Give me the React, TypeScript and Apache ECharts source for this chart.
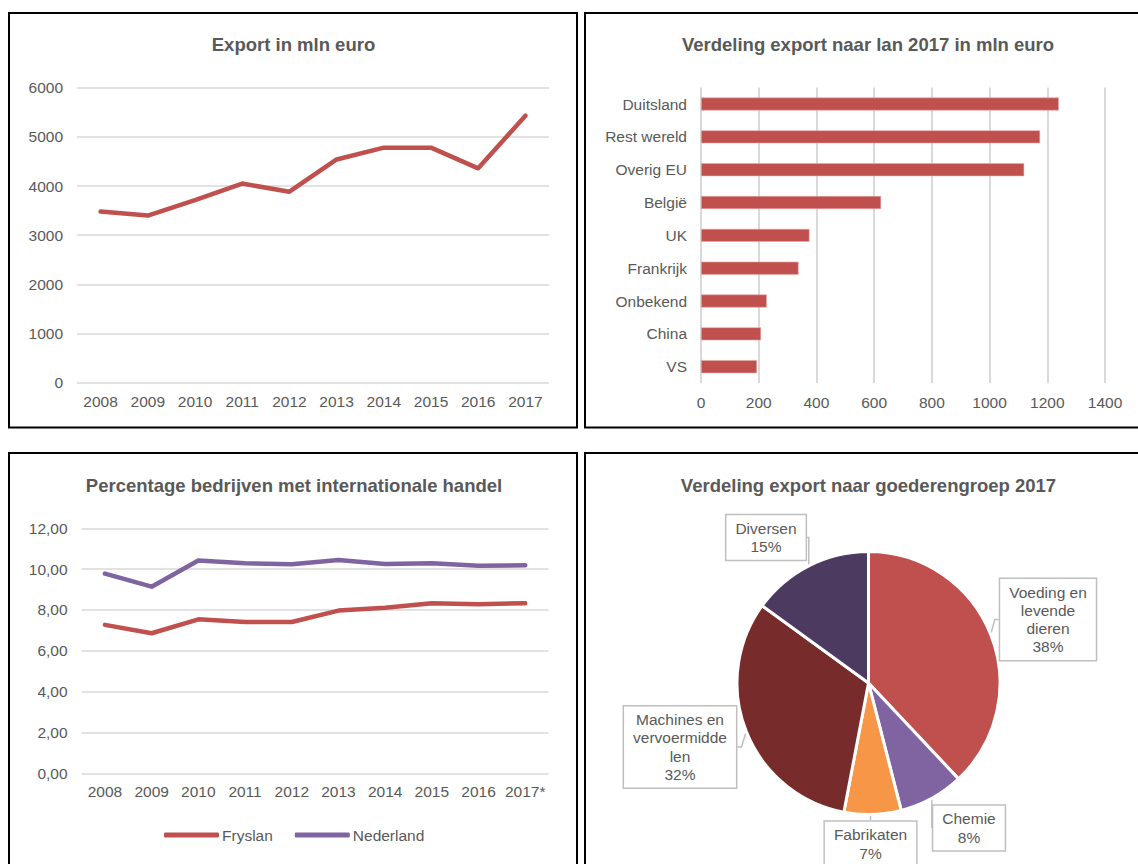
import React, { useEffect, useRef } from "react";
import * as echarts from "echarts";

// ---------- data ----------
const years = ["2008", "2009", "2010", "2011", "2012", "2013", "2014", "2015", "2016", "2017"];
const exportValues = [3480, 3400, 3715, 4050, 3885, 4540, 4780, 4780, 4360, 5430];

const countries = ["Duitsland", "Rest wereld", "Overig EU", "België", "UK", "Frankrijk", "Onbekend", "China", "VS"];
const countryValues = [1240, 1175, 1120, 624, 376, 338, 228, 208, 194];

const yearsPct = ["2008", "2009", "2010", "2011", "2012", "2013", "2014", "2015", "2016", "2017*"];
const fryslanPct = [7.27, 6.86, 7.54, 7.41, 7.41, 7.97, 8.11, 8.33, 8.28, 8.33];
const nederlandPct = [9.78, 9.14, 10.42, 10.29, 10.24, 10.45, 10.25, 10.29, 10.16, 10.19];

const goodsNames = ["Voeding en levende dieren", "Chemie", "Fabrikaten", "Machines en vervoermiddelen", "Diversen"];
const goodsLabelText = ["Voeding en\nlevende\ndieren", "Chemie", "Fabrikaten", "Machines en\nvervoermidde\nlen", "Diversen"];
const goodsValues = [38, 8, 7, 32, 15];

// ---------- styles / layout ----------
const FONT = "'Liberation Sans', Arial, sans-serif";
const TXT = "#595959";
const GRIDC = "#D9D9D9";
const RED = "#C0504D";
const PURPLE = "#8064A2";
const goodsColors = ["#C0504D", "#8064A2", "#F79646", "#772B2A", "#4D3A61"];
const pieLabelCenters: [number, number][] = [
  [1048, 619.5],
  [969, 828],
  [870.5, 844],
  [680, 747],
  [766, 537.5],
];

const axisLabel = { color: TXT, fontSize: 15.5, fontFamily: FONT };
const titleStyle = { color: TXT, fontSize: 18.5, fontWeight: "bold" as const, fontFamily: FONT };
const plain = (v: number) => String(v);

export default function App() {
  const ref = useRef<HTMLDivElement>(null);

  useEffect(() => {
    if (!ref.current) return;
    const chart = echarts.init(ref.current, null, { renderer: "svg" });

    const option: any = {
      animation: false,
      backgroundColor: "#ffffff",
      textStyle: { fontFamily: FONT },
      title: [
        { text: "Export in mln euro", left: 293.5, top: 44, padding: 0, textAlign: "center", textVerticalAlign: "middle", textStyle: titleStyle },
        { text: "Verdeling export naar lan 2017 in mln euro", left: 868, top: 44, padding: 0, textAlign: "center", textVerticalAlign: "middle", textStyle: titleStyle },
        { text: "Percentage bedrijven met internationale handel", left: 294, top: 485, padding: 0, textAlign: "center", textVerticalAlign: "middle", textStyle: titleStyle },
        { text: "Verdeling export naar goederengroep 2017", left: 868.5, top: 485, padding: 0, textAlign: "center", textVerticalAlign: "middle", textStyle: titleStyle },
      ],
      legend: {
        data: ["Fryslan", "Nederland"],
        left: 164,
        top: 827,
        padding: 0,
        icon: "roundRect",
        itemWidth: 55,
        itemHeight: 5,
        itemGap: 22,
        textStyle: { color: TXT, fontSize: 15.5, fontFamily: FONT, padding: [0, 0, 0, -2] },
      },
      grid: [
        { left: 77, top: 87.7, width: 472, height: 295, containLabel: false },
        { left: 701, top: 87.6, width: 404, height: 295.5, containLabel: false },
        { left: 81.6, top: 528.3, width: 467, height: 245, containLabel: false },
      ],
      xAxis: [
        {
          type: "category", gridIndex: 0, data: years, boundaryGap: true,
          axisLine: { show: false }, axisTick: { show: false },
          axisLabel: { ...axisLabel, margin: 11, interval: 0 },
        },
        {
          type: "value", gridIndex: 1, min: 0, max: 1400, interval: 200,
          axisLine: { show: false }, axisTick: { show: false },
          splitLine: { show: true, lineStyle: { color: GRIDC, width: 2 } },
          axisLabel: { ...axisLabel, margin: 11, formatter: plain },
        },
        {
          type: "category", gridIndex: 2, data: yearsPct, boundaryGap: true,
          axisLine: { show: false }, axisTick: { show: false },
          axisLabel: { ...axisLabel, margin: 10, interval: 0 },
        },
      ],
      yAxis: [
        {
          type: "value", gridIndex: 0, min: 0, max: 6000, interval: 1000,
          axisLine: { show: false }, axisTick: { show: false },
          splitLine: { show: true, lineStyle: { color: GRIDC, width: 1.5 } },
          axisLabel: { ...axisLabel, margin: 14, formatter: plain },
        },
        {
          type: "category", gridIndex: 1, data: countries, inverse: true,
          axisLine: { show: false }, axisTick: { show: false },
          axisLabel: { ...axisLabel, margin: 14, interval: 0 },
        },
        {
          type: "value", gridIndex: 2, min: 0, max: 12, interval: 2,
          axisLine: { show: false }, axisTick: { show: false },
          splitLine: { show: true, lineStyle: { color: GRIDC, width: 1.5 } },
          axisLabel: { ...axisLabel, margin: 14, formatter: (v: number) => v.toFixed(2).replace(".", ",") },
        },
      ],
      series: [
        {
          name: "Export", type: "line", xAxisIndex: 0, yAxisIndex: 0, data: exportValues,
          symbol: "none", lineStyle: { color: RED, width: 4.5, cap: "round", join: "round" }, itemStyle: { color: RED },
        },
        {
          name: "Export 2017", type: "bar", xAxisIndex: 1, yAxisIndex: 1, data: countryValues,
          barWidth: 13, itemStyle: { color: RED, borderColor: "#E6A8A6", borderWidth: 0.6 },
        },
        {
          name: "Fryslan", type: "line", xAxisIndex: 2, yAxisIndex: 2, data: fryslanPct,
          symbol: "none", lineStyle: { color: RED, width: 4.5, cap: "round", join: "round" }, itemStyle: { color: RED },
        },
        {
          name: "Nederland", type: "line", xAxisIndex: 2, yAxisIndex: 2, data: nederlandPct,
          symbol: "none", lineStyle: { color: PURPLE, width: 4.5, cap: "round", join: "round" }, itemStyle: { color: PURPLE },
        },
        {
          name: "Goederengroep", type: "pie", center: [868.5, 683], radius: 131.5,
          startAngle: 90, clockwise: true,
          data: goodsNames.map((n, i) => ({ name: n, value: goodsValues[i], itemStyle: { color: goodsColors[i] } })),
          itemStyle: { borderColor: "#ffffff", borderWidth: 3 },
          emphasis: { disabled: true },
          label: {
            show: true,
            position: "outside",
            formatter: (p: any) => goodsLabelText[p.dataIndex] + "\n" + Math.round(p.percent) + "%",
            color: TXT, fontSize: 15.5, lineHeight: 18.3, fontFamily: FONT,
            backgroundColor: "#ffffff", borderColor: "#BFBFBF", borderWidth: 1.5,
            padding: [4, 9, 4, 9], align: "center",
          },
          labelLine: { show: true, length: 8, length2: 4, lineStyle: { color: "#BFBFBF", width: 1.5 } },
          labelLayout: (params: any) => {
            const c = pieLabelCenters[params.dataIndex];
            return { x: c[0], y: c[1], align: "center", verticalAlign: "middle" };
          },
        },
      ],
      graphic: [
        { type: "rect", silent: true, shape: { x: 9, y: 13, width: 568, height: 414.5 }, style: { fill: "none", stroke: "#000", lineWidth: 2 } },
        { type: "rect", silent: true, shape: { x: 585, y: 13, width: 560, height: 414.5 }, style: { fill: "none", stroke: "#000", lineWidth: 2 } },
        { type: "rect", silent: true, shape: { x: 9, y: 453, width: 568, height: 420 }, style: { fill: "none", stroke: "#000", lineWidth: 2 } },
        { type: "rect", silent: true, shape: { x: 585, y: 453, width: 560, height: 420 }, style: { fill: "none", stroke: "#000", lineWidth: 2 } },
      ],
    };

    chart.setOption(option);
    return () => chart.dispose();
  }, []);

  return (
    <div
      ref={ref}
      style={{ position: "absolute", left: 0, top: 0, width: 1138, height: 864, background: "#fff" }}
    />
  );
}
